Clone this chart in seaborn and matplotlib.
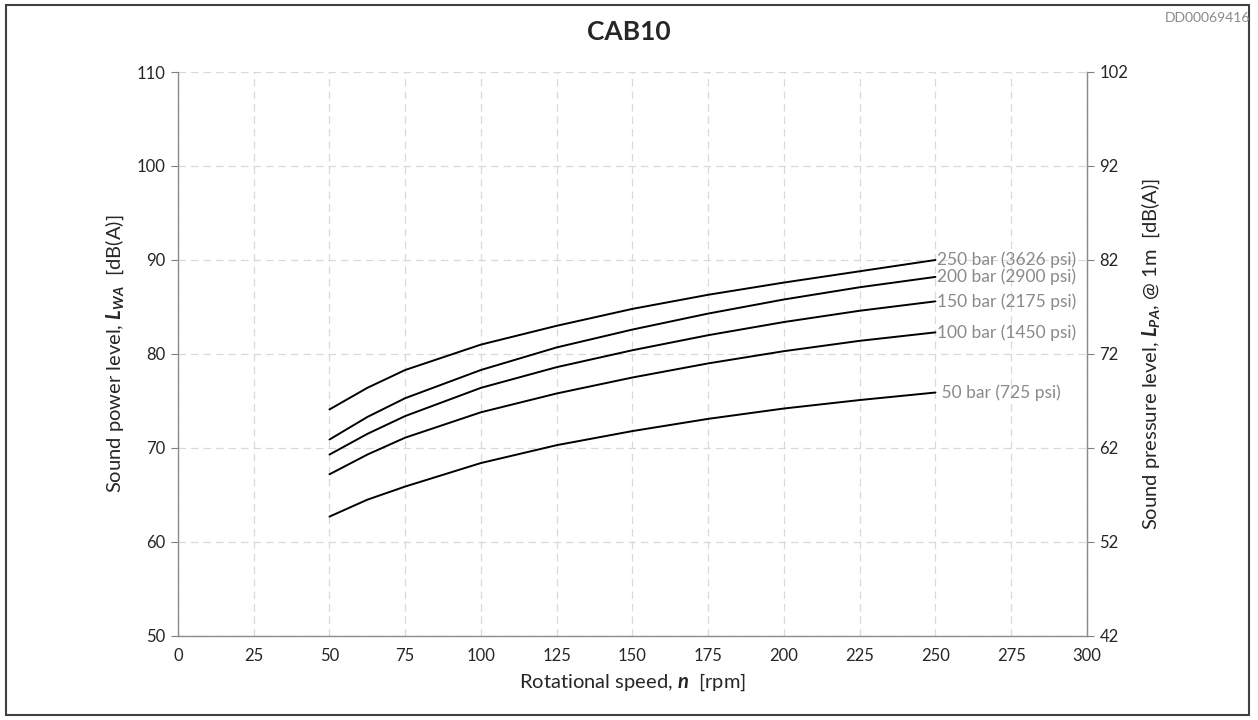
import pandas as pd
import matplotlib.pyplot as plt
import seaborn as sns
from matplotlib.patches import Rectangle

# Values
speed_rpm = [50, 62.5, 75, 100, 125, 150, 175, 200, 225, 250]
lwa_250bar = [74.1, 76.4, 78.3, 81.0, 83.0, 84.8, 86.3, 87.6, 88.8, 90.0]
lwa_200bar = [70.9, 73.3, 75.3, 78.3, 80.7, 82.6, 84.3, 85.8, 87.1, 88.2]
lwa_150bar = [69.3, 71.5, 73.4, 76.4, 78.6, 80.4, 82.0, 83.4, 84.6, 85.6]
lwa_100bar = [67.2, 69.3, 71.1, 73.8, 75.8, 77.5, 79.0, 80.3, 81.4, 82.3]
lwa_50bar = [62.7, 64.5, 65.9, 68.4, 70.3, 71.8, 73.1, 74.2, 75.1, 75.9]
series_labels = ["250 bar (3626 psi)", "200 bar (2900 psi)", "150 bar (2175 psi)",
                 "100 bar (1450 psi)", " 50 bar (725 psi)"]
x_ticks = list(range(0, 301, 25))
y_ticks_left = list(range(50, 111, 10))
y_ticks_right = list(range(42, 103, 10))

# Step 1: long-form table for seaborn
series = [lwa_250bar, lwa_200bar, lwa_150bar, lwa_100bar, lwa_50bar]
rows = []
for label, vals in zip(series_labels, series):
    for n, v in zip(speed_rpm, vals):
        rows.append({"rpm": n, "lwa": v, "pressure": label})
df = pd.DataFrame(rows)

# Step 2: style
sns.set_style("white")
plt.rcParams["font.family"] = ["Lato", "DejaVu Sans"]
plt.rcParams["mathtext.fontset"] = "custom"
plt.rcParams["mathtext.bf"] = "Lato:italic:bold"
plt.rcParams["mathtext.rm"] = "Lato"
plt.rcParams["mathtext.it"] = "Lato:italic"

fig = plt.figure(figsize=(12.58, 7.2), dpi=100)
ax = fig.add_axes([0.1415, 0.1167, 0.7225, 0.7833])

# Step 3: curves
sns.lineplot(data=df, x="rpm", y="lwa", hue="pressure",
             palette=["black"] * len(series_labels), linewidth=1.4,
             legend=False, ax=ax)

for label, vals in zip(series_labels, series):
    ax.text(speed_rpm[-1] + 0.5, vals[-1], label, color="#8a8a8a",
            fontsize=12.5, ha="left", va="center")

# Step 4: axes
grid_kw = dict(color="#d9d9d9", linestyle=(0, (6, 4)), linewidth=0.9)
ax.set_xlim(0, 300)
ax.set_ylim(50, 110)
ax.set_xticks(x_ticks)
ax.set_yticks(y_ticks_left)
ax.grid(True, **grid_kw)
ax.set_axisbelow(True)
ax.tick_params(axis="both", direction="out", length=5, color="#808080",
               labelsize=12, pad=4)
for side in ["left", "bottom", "right"]:
    ax.spines[side].set_color("#8c8c8c")
    ax.spines[side].set_linewidth(1.0)
ax.spines["top"].set_visible(False)
ax.set_xlabel(r"Rotational speed, $\mathbf{n}$  [rpm]", fontsize=14.5, labelpad=5)
ax.set_ylabel(r"Sound power level, $\mathbf{L_{WA}}$  [dB(A)]", fontsize=14.5, labelpad=8)

ax2 = ax.twinx()
ax2.set_ylim(42, 102)
ax2.set_yticks(y_ticks_right)
ax2.tick_params(axis="y", direction="out", length=5, color="#808080",
                labelsize=12, pad=4)
for side in ["left", "bottom", "top"]:
    ax2.spines[side].set_visible(False)
ax2.spines["right"].set_color("#8c8c8c")
ax2.set_ylabel(r"Sound pressure level, $\mathbf{L_{PA}}$, @ 1m  [dB(A)]",
               fontsize=14.5, labelpad=8)

# Step 5: title, id and frame
fig.text(0.5, 0.955, "CAB10", ha="center", va="center", fontsize=19,
         fontweight="bold")
fig.text(0.994, 0.975, "DD00069416", ha="right", va="center", fontsize=10,
         color="#8a8a8a")
fig.patches.append(Rectangle((0.005, 0.007), 0.988, 0.986, transform=fig.transFigure,
                             fill=False, edgecolor="#404040", linewidth=1.5))

fig.savefig("out.png", dpi=100)
